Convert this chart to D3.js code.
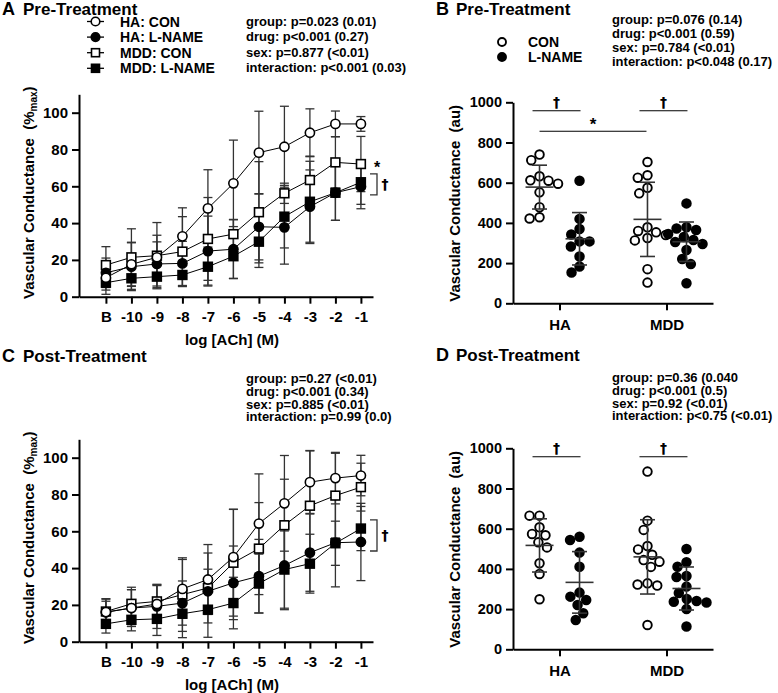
<!DOCTYPE html>
<html>
<head>
<meta charset="utf-8">
<script src="https://cdn.jsdelivr.net/npm/d3@7"></script>
<style>
  body { margin: 0; background: #fff; }
  text { font-family: "Liberation Sans", Arial, sans-serif; font-weight: bold; fill: #000; }
  text.dag { font-family: "DejaVu Sans", sans-serif; }
</style>
</head>
<body>
<div id="chart"></div>
<script>
// dose labels for the concentration-response curves
const doses = ["B", "-10", "-9", "-8", "-7", "-6", "-5", "-4", "-3", "-2", "-1"]

// Pre-treatment means and SD (%max)
const preHaCon = [10.3, 17.6, 21.4, 32.8, 48, 61.6, 78.3, 81.5, 89.1, 93.9, 93.9]
const preHaConSd = [9, 12, 12, 15.5, 21, 23.5, 22.5, 22, 13, 7, 4]
const preHaLname = [13, 16.3, 17.8, 18.1, 24.8, 25.8, 38, 37.7, 48.9, 56.5, 59.8]
const preHaLnameSd = [8, 13, 12, 12, 19, 16, 18, 20, 20, 15, 12]
const preMddCon = [17.2, 21.4, 22.3, 24.5, 31.4, 34, 45.9, 56.2, 63.4, 73, 72.1]
const preMddConSd = [10, 15.5, 18, 19, 22.5, 8, 27.5, 5.5, 13, 14, 15]
const preMddLname = [7.6, 10, 10.9, 11.8, 16.3, 22, 29.9, 43.5, 51.6, 56.5, 62.2]
const preMddLnameSd = [4, 6, 6, 6, 10, 12, 14, 17, 22, 15, 12]

// Post-treatment means and SD (%max)
const postHaCon = [16.1, 18.3, 20.5, 28.7, 33.8, 46, 64.2, 75.2, 86.7, 88.9, 90.3]
const postHaConSd = [7, 10, 10, 16, 19, 26, 27, 26, 17, 14, 11]
const postHaLname = [16, 18.3, 19.2, 21, 27.4, 32, 35.6, 41.4, 48.4, 53.8, 54.2]
const postHaLnameSd = [6, 10, 12, 12, 12, 20, 20, 24, 21, 24, 21]
const postMddCon = [16.4, 20.6, 21.9, 25.6, 29.2, 42.9, 50.6, 63.3, 73.9, 79.4, 84]
const postMddConSd = [7, 9, 9, 20, 19, 29, 25, 25, 30, 23, 13]
const postMddLname = [9.7, 11.9, 12.4, 15.2, 17.4, 21, 31.6, 39.2, 42.4, 53.5, 61.5]
const postMddLnameSd = [5, 6, 9, 13, 15, 14, 16, 21, 16, 12, 12]

// individual vascular conductance (au)
const preHaConPts = [740, 712, 632, 612, 610, 595, 552, 478, 428, 422]
const preHaLnamePts = [610, 420, 370, 342, 308, 308, 283, 233, 183, 153]
const preMddConPts = [703, 637, 625, 575, 547, 378, 360, 353, 340, 325, 313, 170, 103]
const preMddLnamePts = [497, 378, 372, 365, 345, 330, 315, 305, 295, 265, 220, 195, 100]
const postHaConPts = [665, 665, 607, 574, 567, 532, 507, 428, 375, 249]
const postHaLnamePts = [560, 544, 481, 411, 282, 262, 245, 220, 179, 146]
const postMddConPts = [884, 640, 594, 514, 497, 470, 444, 436, 410, 328, 322, 317, 121]
const postMddLnamePts = [499, 433, 411, 365, 360, 312, 280, 250, 240, 237, 233, 200, 113]

const groups = ["HA", "MDD"]

const preStats = ["group: p=0.023 (0.01)", "drug: p<0.001 (0.27)", "sex: p=0.877 (<0.01)", "interaction: p<0.001 (0.03)"]
const preDotStats = ["group: p=0.076 (0.14)", "drug: p<0.001 (0.59)", "sex: p=0.784 (<0.01)", "interaction: p<0.048 (0.17)"]
const postStats = ["group: p=0.27 (<0.01)", "drug: p<0.001 (0.34)", "sex: p=0.885 (<0.01)", "interaction: p=0.99 (0.0)"]
const postDotStats = ["group: p=0.36 (0.040", "drug: p<0.001 (0.5)", "sex: p=0.92 (<0.01)", "interaction: p<0.75 (<0.01)"]

const seriesNames = ["HA: CON", "HA: L-NAME", "MDD: CON", "MDD: L-NAME"]
const seriesShapes = ["circle", "circle", "square", "square"]
const seriesFills = ["#fff", "#000", "#fff", "#000"]

let svg = d3.select("#chart").append("svg")
  .attr("width", 778)
  .attr("height", 693)

svg.append("rect").attr("width", 778).attr("height", 693).attr("fill", "#fff")

function marker(g, shape, fill, x, y, size) {
  if (shape === "circle") {
    g.append("circle").attr("cx", x).attr("cy", y).attr("r", size)
      .attr("fill", fill).attr("stroke", "#000").attr("stroke-width", 1.6)
  } else {
    g.append("rect").attr("x", x - size).attr("y", y - size)
      .attr("width", size * 2).attr("height", size * 2)
      .attr("fill", fill).attr("stroke", "#000").attr("stroke-width", 1.6)
  }
}

function styleAxis(g, fontSize) {
  g.selectAll("path, line").attr("stroke", "#000").attr("stroke-width", 2)
  g.selectAll("text").style("font-size", fontSize + "px").attr("fill", "#000")
}

function yTitle(g, x, y, main, sub) {
  let t = g.append("text")
    .attr("transform", `translate(${x},${y}) rotate(-90)`)
    .attr("text-anchor", "middle")
    .style("font-size", "15px")
    .style("white-space", "pre")
  t.append("tspan").text(main)
  if (sub) {
    t.append("tspan").attr("dy", 3).style("font-size", "10px").text(sub)
    t.append("tspan").attr("dy", -3).text(")")
  }
}

function dagger(g, x, y, size) {
  g.append("text").attr("class", "dag").attr("x", x).attr("y", y)
    .attr("text-anchor", "middle").style("font-size", size + "px").style("fill", "#000").text("†")
}

function statsBlock(x, y0, lineH, lines) {
  lines.forEach((s, i) => {
    svg.append("text").attr("x", x).attr("y", y0 + i * lineH)
      .style("font-size", "13px").text(s)
  })
}

function title(x, y, letter, label, gap) {
  svg.append("text").attr("x", x).attr("y", y).style("font-size", "18px").text(letter)
  svg.append("text").attr("x", x + gap).attr("y", y).style("font-size", "17px").text(label)
}

// concentration-response panel
function curvePanel(opt) {
  let g = svg.append("g")
  let x = d3.scalePoint().domain(doses).range([79, 373]).padding(0.765).align(0.69)
  let y = d3.scaleLinear().domain([0, 110]).range([opt.y0, opt.y0 - 202.4])

  let series = opt.means.map((m, i) => ({
    name: seriesNames[i], shape: seriesShapes[i], fill: seriesFills[i],
    pts: doses.map((d, j) => ({ d: d, m: m[j], sd: opt.sds[i][j] }))
  }))

  // error bars
  series.forEach(s => {
    s.pts.forEach(p => {
      let cx = x(p.d)
      let eg = g.append("g").attr("stroke", "#333").attr("stroke-width", 1.3)
      eg.append("line").attr("x1", cx).attr("x2", cx).attr("y1", y(p.m - p.sd)).attr("y2", y(p.m + p.sd))
      ;[p.m - p.sd, p.m + p.sd].forEach(v => {
        eg.append("line").attr("x1", cx - 4.5).attr("x2", cx + 4.5).attr("y1", y(v)).attr("y2", y(v))
      })
    })
  })

  let line = d3.line().x(p => x(p.d)).y(p => y(p.m))
  series.forEach(s => {
    g.append("path").attr("d", line(s.pts)).attr("fill", "none").attr("stroke", "#000").attr("stroke-width", 1)
  })
  series.slice().reverse().forEach(s => {
    s.pts.forEach(p => marker(g, s.shape, s.fill, x(p.d), y(p.m), s.shape === "circle" ? 4.6 : 4.4))
  })

  let xa = g.append("g").attr("transform", `translate(0,${opt.y0})`)
    .call(d3.axisBottom(x).tickSize(7).tickSizeOuter(0).tickPadding(8))
  styleAxis(xa, 15)
  let ya = g.append("g").attr("transform", "translate(79,0)")
    .call(d3.axisLeft(y).tickValues([0, 20, 40, 60, 80, 100]).tickSize(7).tickSizeOuter(0).tickPadding(4))
  styleAxis(ya, 15)

  g.append("text").attr("x", 232).attr("y", opt.y0 + 48).attr("text-anchor", "middle")
    .style("font-size", "15px").text("log [ACh] (M)")
  yTitle(g, 34, opt.y0 - 104, "Vascular Conductance  (%", "max")

  // bracket + marks
  let b1 = y(opt.bracket[0]), b2 = y(opt.bracket[1])
  g.append("path").attr("d", `M370,${b1}H377V${b2}H370`).attr("fill", "none").attr("stroke", "#333").attr("stroke-width", 1.3)
  dagger(g, 385, (b1 + b2) / 2 + 5, 14)
  if (opt.star) {
    g.append("text").attr("x", 374).attr("y", y(opt.star) + 9).style("font-size", "16px").text("*")
  }
  return g
}

// beeswarm offsets for the scatter panels
function swarm(vals, cx, y, D) {
  let pts = []
  vals.slice().sort((a, b) => b - a).forEach(v => {
    let py = y(v)
    let cands = [cx]
    pts.forEach(p => {
      let dy = p.y - py
      if (Math.abs(dy) < D) {
        let dx = Math.sqrt(D * D - dy * dy)
        cands.push(p.x - dx, p.x + dx)
      }
    })
    cands.sort((a, b) => Math.abs(a - cx) - Math.abs(b - cx))
    let px = cands.find(c => pts.every(p => (p.x - c) ** 2 + (p.y - py) ** 2 >= D * D - 0.01))
    pts.push({ x: px, y: py })
  })
  return pts
}

function dotPanel(opt) {
  let g = svg.append("g")
  let x = d3.scalePoint().domain(groups).range([513, 713]).padding(0.435)
  let y = d3.scaleLinear().domain([0, 1000]).range([opt.y0, opt.y0 - 201])

  let sets = [
    { grp: "HA", off: -20, fill: "#fff", vals: opt.data[0] },
    { grp: "HA", off: 20, fill: "#000", vals: opt.data[1] },
    { grp: "MDD", off: -19, fill: "#fff", vals: opt.data[2] },
    { grp: "MDD", off: 20, fill: "#000", vals: opt.data[3] }
  ]
  sets.forEach(s => {
    let cx = x(s.grp) + s.off
    let m = d3.mean(s.vals), sd = d3.deviation(s.vals)
    let eg = g.append("g").attr("stroke", "#333").attr("stroke-width", 1.6)
    swarm(s.vals, cx, y, 10).forEach(p => {
      g.append("circle").attr("cx", p.x).attr("cy", p.y).attr("r", 4.3)
        .attr("fill", s.fill).attr("stroke", "#000").attr("stroke-width", 1.9)
    })
    eg.raise()
    eg.append("line").attr("x1", cx).attr("x2", cx).attr("y1", y(m - sd)).attr("y2", y(m + sd))
    eg.append("line").attr("x1", cx - 14).attr("x2", cx + 14).attr("y1", y(m)).attr("y2", y(m))
    ;[m - sd, m + sd].forEach(v => {
      eg.append("line").attr("x1", cx - 7.5).attr("x2", cx + 7.5).attr("y1", y(v)).attr("y2", y(v))
    })
  })

  let xa = g.append("g").attr("transform", `translate(0,${opt.y0})`)
    .call(d3.axisBottom(x).tickSize(7).tickSizeOuter(0).tickPadding(9))
  styleAxis(xa, 15)
  let ya = g.append("g").attr("transform", "translate(513,0)")
    .call(d3.axisLeft(y).tickValues([0, 200, 400, 600, 800, 1000]).tickFormat(d3.format("d"))
      .tickSize(7).tickSizeOuter(0).tickPadding(4))
  styleAxis(ya, 14.5)

  yTitle(g, 460, opt.y0 - 100, "Vascular Conductance  (au)")

  // significance lines
  groups.forEach(grp => {
    let cx = x(grp)
    g.append("line").attr("x1", cx - 27).attr("x2", cx + 21).attr("y1", y(958)).attr("y2", y(958))
      .attr("stroke", "#000").attr("stroke-width", 1.2)
    dagger(g, cx - 3, y(958) - 4, 14)
  })
  if (opt.star) {
    g.append("line").attr("x1", x("HA") - 20).attr("x2", x("MDD") - 20).attr("y1", y(856)).attr("y2", y(856))
      .attr("stroke", "#000").attr("stroke-width", 1.2)
    g.append("text").attr("x", 593).attr("y", y(856) - 1).attr("text-anchor", "middle")
      .style("font-size", "17px").text("*")
  }
}

// titles
title(2, 15, "A", "Pre-Treatment", 21)
title(436, 15, "B", "Pre-Treatment", 20)
title(2, 362, "C", "Post-Treatment", 21)
title(436, 361, "D", "Post-Treatment", 20)

// legend for A
seriesNames.forEach((n, i) => {
  let ly = 21.5 + i * 15.6
  svg.append("line").attr("x1", 87).attr("x2", 104).attr("y1", ly).attr("y2", ly).attr("stroke", "#000").attr("stroke-width", 1.3)
  marker(svg, seriesShapes[i], seriesFills[i], 95.5, ly, seriesShapes[i] === "circle" ? 4.3 : 4)
  svg.append("text").attr("x", 120).attr("y", ly + 5).style("font-size", "14px").text(n)
})

// legend for B
;[["CON", "#fff"], ["L-NAME", "#000"]].forEach((d, i) => {
  let ly = 42 + i * 15
  svg.append("circle").attr("cx", 502).attr("cy", ly).attr("r", 4).attr("fill", d[1]).attr("stroke", "#000").attr("stroke-width", 1.9)
  svg.append("text").attr("x", 528).attr("y", ly + 5).style("font-size", "14px").text(d[0])
})

statsBlock(246, 25.5, 15.5, preStats)
statsBlock(612, 24, 14, preDotStats)
statsBlock(246, 383, 12.8, postStats)
statsBlock(612, 382, 12.8, postDotStats)

curvePanel({
  y0: 296.7,
  means: [preHaCon, preHaLname, preMddCon, preMddLname],
  sds: [preHaConSd, preHaLnameSd, preMddConSd, preMddLnameSd],
  bracket: [66.7, 55.3], star: 72
})
curvePanel({
  y0: 641.7,
  means: [postHaCon, postHaLname, postMddCon, postMddLname],
  sds: [postHaConSd, postHaLnameSd, postMddConSd, postMddLnameSd],
  bracket: [66.2, 49.3]
})

dotPanel({ y0: 303.3, data: [preHaConPts, preHaLnamePts, preMddConPts, preMddLnamePts], star: true })
dotPanel({ y0: 649.3, data: [postHaConPts, postHaLnamePts, postMddConPts, postMddLnamePts] })
</script>
</body>
</html>
